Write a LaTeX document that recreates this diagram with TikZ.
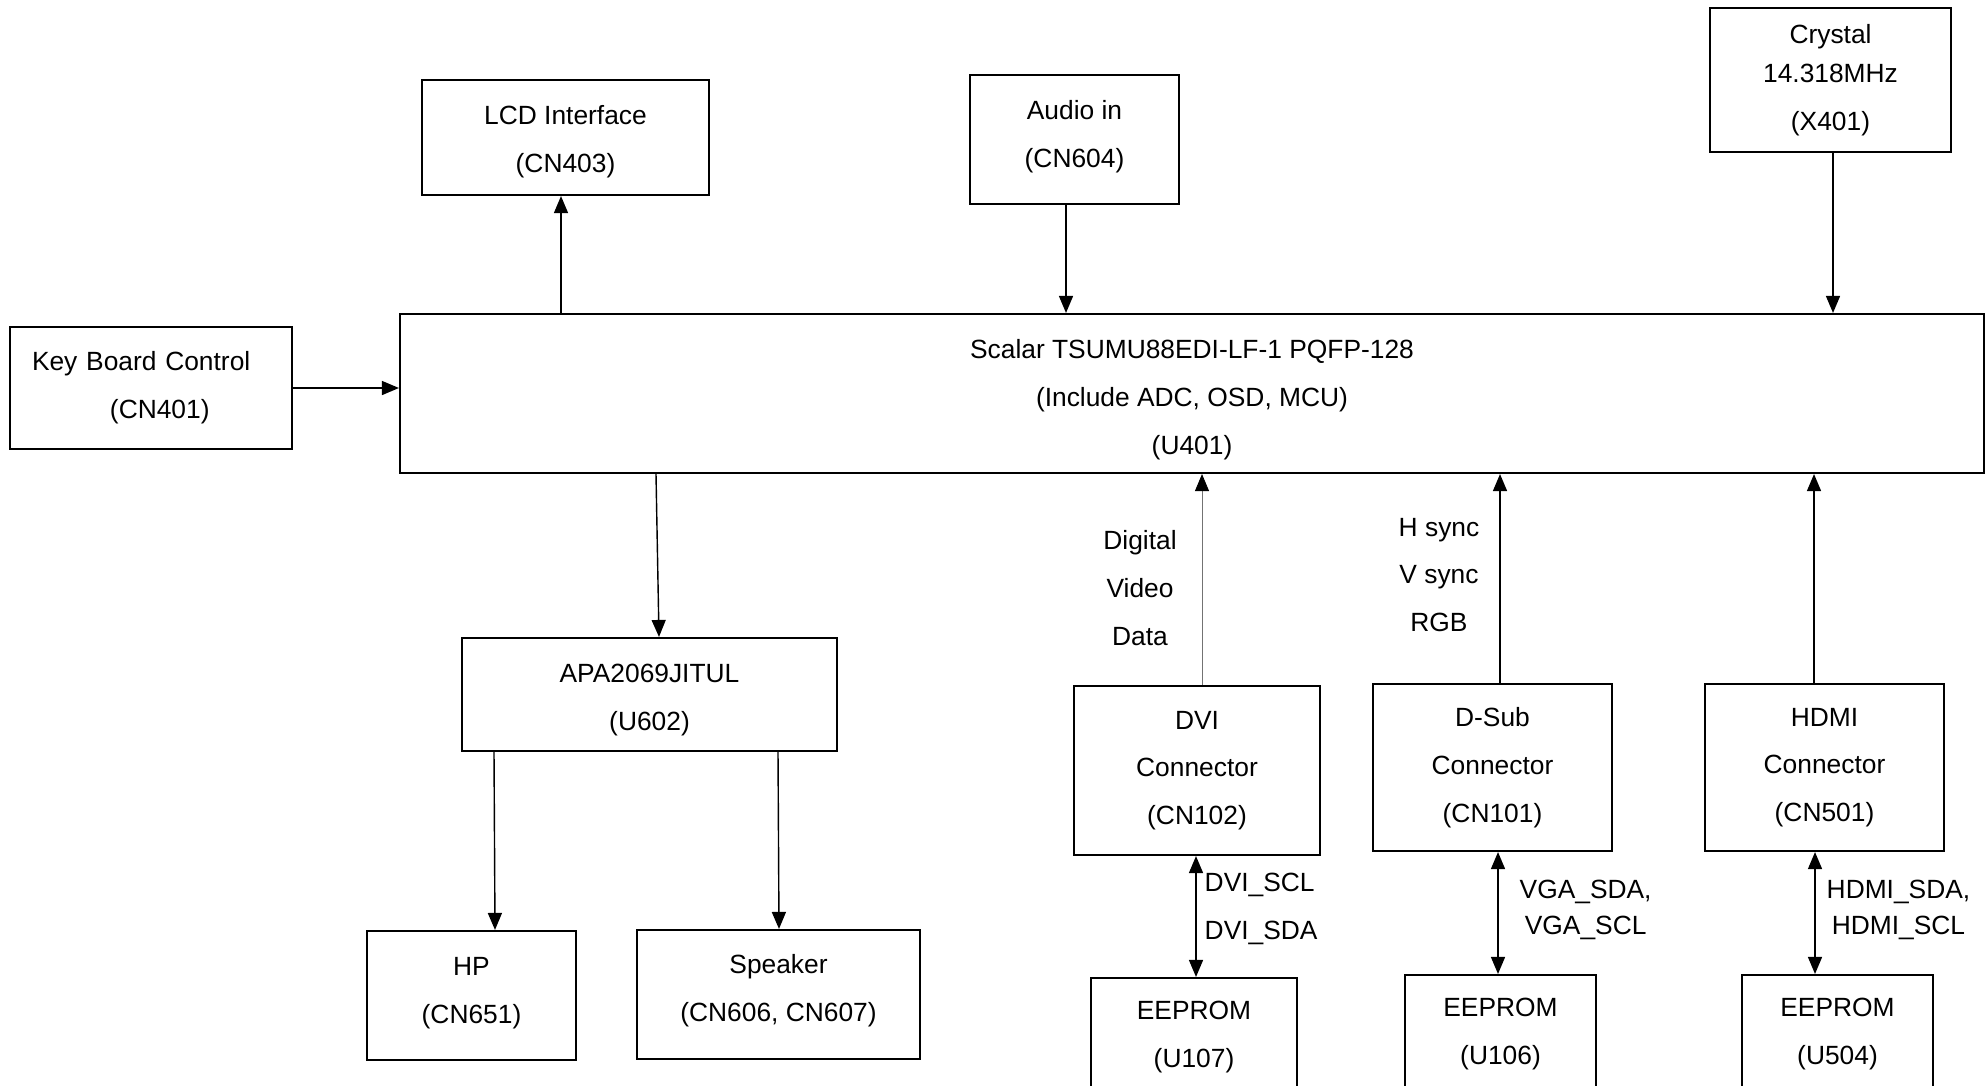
\documentclass[tikz,border=0pt]{standalone}
\usepackage{fontspec}
\setmainfont{Liberation Sans}
\usetikzlibrary{arrows.meta}
% invisible struts that move a block's text down (top) or up (bottom)
\newcommand{\topgap}[1]{\rule{0pt}{#1}}
\newcommand{\botgap}[1]{\rule[-#1]{0pt}{#1}}

\begin{document}
\begin{tikzpicture}[
    >={Triangle[length=1.7mm,width=1.4mm]},
    blk/.style={draw,line width=0.6pt,inner sep=0pt,align=center,
      font=\fontsize{7.5pt}{13.6pt}\selectfont},
    note/.style={inner sep=0pt,align=center,
      font=\fontsize{7.5pt}{13.6pt}\selectfont},
    flow/.style={->,line width=0.4pt},
    bus/.style={<->,line width=0.4pt}
  ]
  \useasboundingbox (0,0) rectangle (19.86,-10.85);
  \clip (0,0) rectangle (19.86,-10.85);

  % scalar and the parts above it
  \node[blk,minimum width=15.84cm,minimum height=1.59cm] (scalar) at (11.92,-3.935)
    {\topgap{9pt}Scalar TSUMU88EDI-LF-1 PQFP-128\\(Include ADC, OSD, MCU)\\(U401)};
  \node[blk,minimum width=2.87cm,minimum height=1.15cm] (lcd) at (5.655,-1.375)
    {\topgap{7.6pt}LCD Interface\\(CN403)};
  \node[blk,minimum width=2.09cm,minimum height=1.29cm] (audio) at (10.745,-1.395)
    {Audio in\\(CN604)\botgap{3pt}};
  \node[blk,minimum width=2.41cm,minimum height=1.44cm] (xtal) at (18.305,-0.80)
    {Crystal\\[-2.5pt]14.318MHz\\(X401)};
  \node[blk,minimum height=1.22cm,text width=2.38cm,inner xsep=0.22cm,align=left]
    (keys) at (1.51,-3.88) {Key Board Control\\\hspace*{0.78cm}(CN401)};

  \draw[flow] (5.61,0 |- scalar.north) -- (5.61,0 |- lcd.south);
  \draw[flow] (10.66,0 |- audio.south) -- (10.66,0 |- scalar.north);
  \draw[flow] (18.33,0 |- xtal.south) -- (18.33,0 |- scalar.north);
  \draw[flow] (keys.east) -- (keys.east -| scalar.west);

  % audio path
  \node[blk,minimum width=3.75cm,minimum height=1.13cm] (amp) at (6.495,-6.945)
    {\topgap{8.6pt}APA2069JITUL\\(U602)};
  \node[blk,minimum width=2.09cm,minimum height=1.29cm] (hp) at (4.715,-9.955)
    {HP\\(CN651)\botgap{3pt}};
  \node[blk,minimum width=2.83cm,minimum height=1.29cm] (spk) at (7.785,-9.945)
    {Speaker\\(CN606, CN607)\botgap{3.8pt}};

  \draw[flow] (6.56,0 |- scalar.south) -- (6.59,0 |- amp.north);
  \draw[flow] (4.94,0 |- amp.south) -- (4.95,0 |- hp.north);
  \draw[flow] (7.78,0 |- amp.south) -- (7.79,0 |- spk.north);

  % video inputs
  \node[blk,minimum width=2.46cm,minimum height=1.69cm] (dvi) at (11.97,-7.705)
    {DVI\\Connector\\(CN102)};
  \node[blk,minimum width=2.39cm,minimum height=1.67cm] (dsub) at (14.925,-7.675)
    {D-Sub\\Connector\\(CN101)};
  \node[blk,minimum width=2.39cm,minimum height=1.67cm] (hdmi) at (18.245,-7.675)
    {HDMI\\Connector\\(CN501)};
  \node[blk,minimum width=2.06cm,minimum height=1.18cm] (romdvi) at (11.94,-10.37)
    {EEPROM\\(U107)};
  \node[blk,minimum width=1.91cm,minimum height=1.18cm] (romvga) at (15.005,-10.34)
    {EEPROM\\(U106)};
  \node[blk,minimum width=1.91cm,minimum height=1.18cm] (romhdmi) at (18.375,-10.34)
    {EEPROM\\(U504)};

  \draw[line width=0.25pt,draw=black!55,
    -{Triangle[length=1.7mm,width=1.4mm,color=black]}]
    (12.02,0 |- dvi.north) -- (12.02,0 |- scalar.south);
  \draw[flow] (15.00,0 |- dsub.north) -- (15.00,0 |- scalar.south);
  \draw[flow] (18.14,0 |- hdmi.north) -- (18.14,0 |- scalar.south);
  \draw[bus] (11.96,0 |- dvi.south) -- (11.96,0 |- romdvi.north);
  \draw[bus] (14.98,0 |- dsub.south) -- (14.98,0 |- romvga.north);
  \draw[bus] (18.15,0 |- hdmi.south) -- (18.15,0 |- romhdmi.north);

  \node[note] (dvidata) at (11.40,-5.88) {Digital\\Video\\Data};
  \node[note] (vgadata) at (14.39,-5.75) {H sync\\V sync\\RGB};
  \node[note,anchor=west,align=left] (dvibus) at (12.04,-9.09)
    {DVI\_SCL\\DVI\_SDA};
  \node[note,anchor=west,font=\fontsize{7.5pt}{10.3pt}\selectfont] (vgabus)
    at (15.19,-9.10) {VGA\_SDA,\\VGA\_SCL};
  \node[note,anchor=west,font=\fontsize{7.5pt}{10.3pt}\selectfont] (hdmibus)
    at (18.26,-9.10) {HDMI\_SDA,\\HDMI\_SCL};
\end{tikzpicture}
\end{document}
